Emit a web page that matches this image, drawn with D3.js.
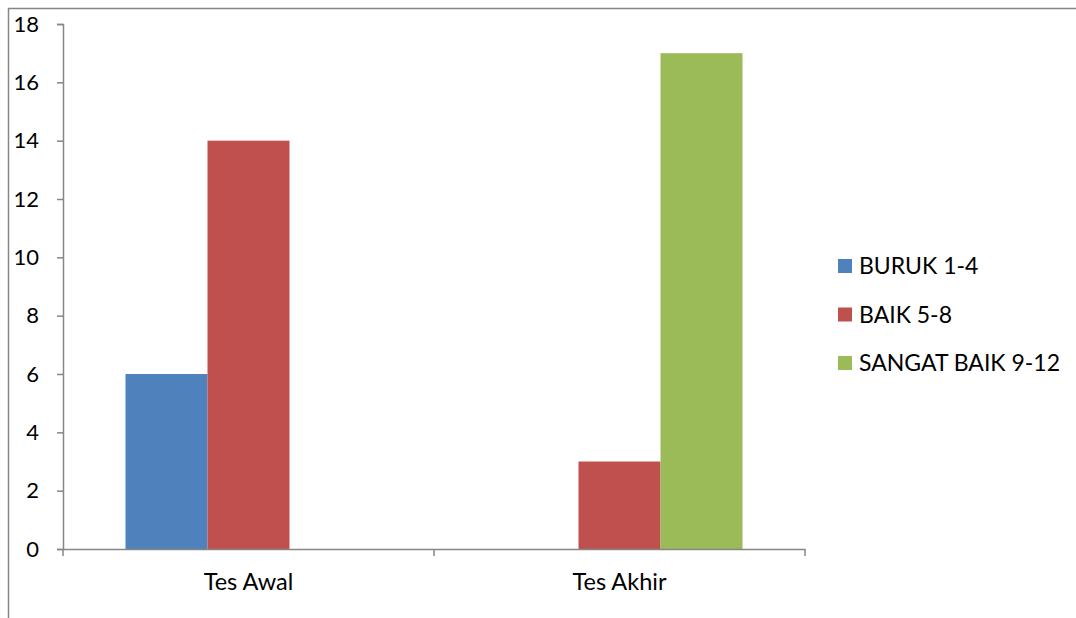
<!DOCTYPE html>
<html><head><meta charset="utf-8">
<script src="https://cdn.jsdelivr.net/npm/d3@7"></script>
<style>body{margin:0;background:#fff;}svg{display:block;font-family:Lato,"Open Sans",sans-serif;}</style>
</head><body>
<svg id="c" width="1076" height="618"></svg>
<script>
const categories = ["Tes Awal", "Tes Akhir"];
const seriesNames = ["BURUK 1-4", "BAIK 5-8", "SANGAT BAIK 9-12"];
const buruk = [6, 0];
const baik = [14, 3];
const sangatBaik = [0, 17];
const yTicks = [0, 2, 4, 6, 8, 10, 12, 14, 16, 18];
const colors = ["#4F81BD", "#C0504D", "#9BBB59"];

const seriesValues = [buruk, baik, sangatBaik];
const svg = d3.select("#c");
const axisColor = "#868686";

// outer frame
svg.append("rect").attr("x", 8.5).attr("y", 8.5).attr("width", 1200).attr("height", 800)
  .attr("fill", "none").attr("stroke", axisColor).attr("stroke-width", 1.5);

const L = 63, R = 805, T = 24, B = 549;
const x0 = d3.scaleBand().domain(categories).range([L, R]).paddingInner(0).paddingOuter(0);
const y = d3.scaleLinear().domain([0, 18]).range([B, T]);
const x1 = d3.scaleBand().domain(seriesNames).range([0, 246]);
const groupOffset = (x0.bandwidth() - 246) / 2;

// bars
categories.forEach((cat, ci) => {
  seriesNames.forEach((s, si) => {
    const v = seriesValues[si][ci];
    if (v <= 0) return;
    svg.append("rect")
      .attr("x", x0(cat) + groupOffset + x1(s))
      .attr("y", y(v))
      .attr("width", x1.bandwidth())
      .attr("height", B - y(v))
      .attr("fill", colors[si]);
  });
});

// y axis
const yAxis = svg.append("g").attr("transform", `translate(${L},0)`)
  .call(d3.axisLeft(y).tickValues(yTicks).tickSize(6).tickPadding(18));
yAxis.select(".domain").attr("stroke", axisColor).attr("stroke-width", 1.5);
yAxis.selectAll(".tick line").attr("stroke", axisColor).attr("stroke-width", 1.5);
yAxis.selectAll(".tick text").attr("font-size", 22).attr("fill", "#000").attr("font-family", "Lato, 'Open Sans', sans-serif");

// x axis
const xAxis = svg.append("g").attr("transform", `translate(0,${B})`)
  .call(d3.axisBottom(x0).tickSize(0).tickPadding(24));
xAxis.select(".domain").attr("stroke", axisColor).attr("stroke-width", 1.5);
xAxis.selectAll(".tick text").attr("font-size", 23.5).attr("fill", "#000").attr("font-family", "Lato, 'Open Sans', sans-serif");
// category boundary ticks
const bounds = [L, x0(categories[1]), R];
svg.selectAll(".bt").data(bounds).enter().append("line")
  .attr("x1", d => d).attr("x2", d => d).attr("y1", B).attr("y2", B + 7)
  .attr("stroke", axisColor).attr("stroke-width", 1.5);

// legend
const lg = svg.append("g").attr("transform", "translate(838,266)");
seriesNames.forEach((s, i) => {
  const g = lg.append("g").attr("transform", `translate(0,${i * 48.5})`);
  g.append("rect").attr("x", 0).attr("y", -7).attr("width", 14).attr("height", 14).attr("fill", colors[i]);
  g.append("text").attr("x", 21).attr("y", 0).attr("dy", "0.35em").attr("font-size", 23).attr("fill", "#000").text(s);
});
</script>
</body></html>
